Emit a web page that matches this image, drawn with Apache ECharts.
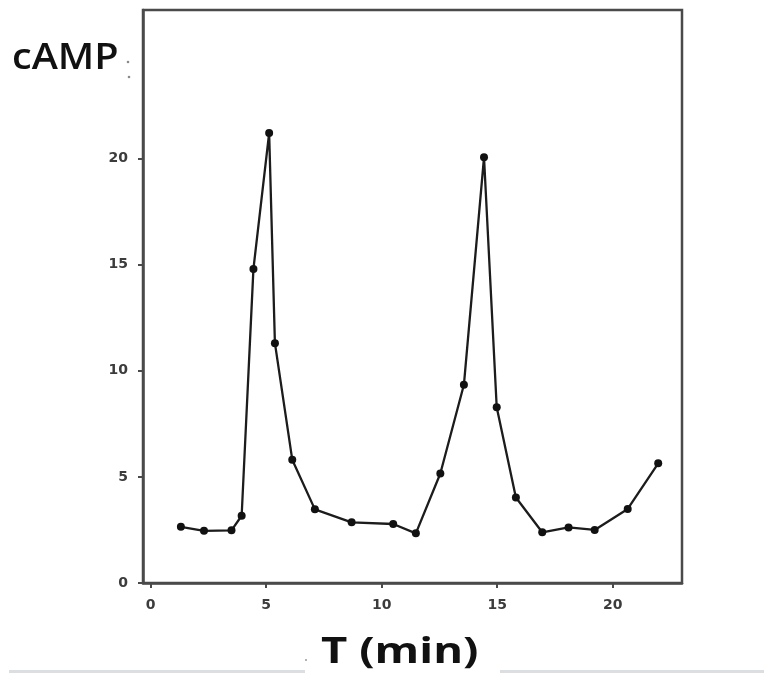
<!DOCTYPE html>
<html>
<head>
<meta charset="utf-8">
<script src="https://cdn.jsdelivr.net/npm/echarts@6/dist/echarts.min.js"></script>
<style>
  html, body { margin: 0; padding: 0; background: #ffffff; }
  #chart { width: 764px; height: 673px; }
</style>
</head>
<body>
<div id="chart"></div>
<script>
// Sampling times (min) and measured cAMP levels
const timeMin = [1.31, 2.31, 3.50, 3.94, 4.45, 5.13, 5.38, 6.13, 7.11, 8.70, 10.50, 11.48,
                 12.54, 13.56, 14.43, 14.98, 15.81, 16.95, 18.09, 19.22, 20.65, 21.97];
const campLevel = [2.65, 2.46, 2.48, 3.17, 14.8, 21.2, 11.3, 5.81, 3.47, 2.86, 2.78, 2.34,
                   5.16, 9.34, 20.06, 8.28, 4.03, 2.39, 2.62, 2.50, 3.49, 5.64];
const xTickValues = [0, 5, 10, 15, 20];
const yTickValues = [0, 5, 10, 15, 20];

const points = timeMin.map((t, i) => [t, campLevel[i]]);
const frameColor = '#4a4a4a';
const tickFont = '"DejaVu Sans", sans-serif';

const chart = echarts.init(document.getElementById('chart'), null, { renderer: 'canvas' });
chart.setOption({
  backgroundColor: '#ffffff',
  animation: false,
  grid: {
    left: 143, right: 82, top: 10, bottom: 90,
    show: true, borderColor: frameColor, borderWidth: 2.5, backgroundColor: 'transparent'
  },
  xAxis: {
    type: 'value',
    min: -0.33, max: 23,
    splitLine: { show: false },
    axisLine: { show: true, onZero: false, lineStyle: { color: frameColor, width: 2.5 } },
    axisTick: { show: true, customValues: xTickValues, length: 5, lineStyle: { color: frameColor, width: 2 } },
    axisLabel: {
      customValues: xTickValues, margin: 15,
      color: '#3c3c3c', fontSize: 14, fontWeight: 'bold', fontFamily: tickFont
    }
  },
  yAxis: {
    type: 'value',
    min: 0, max: 27,
    splitLine: { show: false },
    axisLine: { show: true, onZero: false, lineStyle: { color: frameColor, width: 2.5 } },
    axisTick: { show: true, customValues: yTickValues, length: 5, lineStyle: { color: frameColor, width: 2 } },
    axisLabel: {
      customValues: yTickValues, margin: 15,
      color: '#3c3c3c', fontSize: 14, fontWeight: 'bold', fontFamily: tickFont
    }
  },
  series: [{
    type: 'line',
    data: points,
    symbol: 'circle',
    symbolSize: 8,
    lineStyle: { color: '#1c1c1c', width: 2.3 },
    itemStyle: { color: '#111111' },
    z: 3
  }],
  graphic: [
    {
      type: 'text', x: 12, y: 41, scaleX: 1.1, originX: 0,
      style: {
        text: 'cAMP', font: '600 36px "Open Sans", "Noto Sans", sans-serif',
        fill: '#111111'
      }
    },
    { type: 'circle', shape: { cx: 128, cy: 62, r: 1.3 }, style: { fill: '#8a8a8a' } },
    { type: 'circle', shape: { cx: 129, cy: 77, r: 1.3 }, style: { fill: '#8a8a8a' } },
    {
      type: 'text', x: 321, y: 636, scaleX: 1.3, originX: 0,
      style: {
        text: 'T (min)', font: '700 35px "Open Sans", "Noto Sans", sans-serif',
        fill: '#111111'
      }
    },
    { type: 'circle', shape: { cx: 306, cy: 660, r: 1 }, style: { fill: '#9a9a9a' } },
    {
      type: 'rect', shape: { x: 9, y: 670, width: 296, height: 3 },
      style: { fill: '#dcdfe2' }, silent: true
    },
    {
      type: 'rect', shape: { x: 500, y: 670, width: 264, height: 3 },
      style: { fill: '#dcdfe2' }, silent: true
    }
  ]
});
</script>
</body>
</html>
